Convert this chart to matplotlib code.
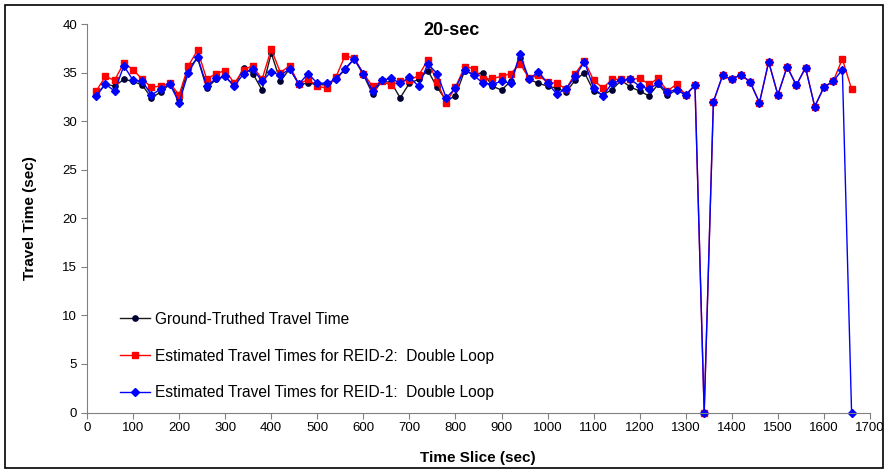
import numpy as np
import matplotlib
matplotlib.use("Agg")
import matplotlib.pyplot as plt
from matplotlib.patches import Rectangle

plt.rcParams['font.family'] = ['Liberation Sans', 'DejaVu Sans']

# time slices (sec)
t_all = list(range(20, 1661, 20))
t_truth = list(range(20, 1321, 20))

truth = [32.7, 33.8, 33.6, 34.3, 34.1, 33.7, 32.4, 33.0, 33.8, 32.3,
         35.4, 36.5, 33.4, 34.3, 34.6, 33.6, 35.5, 34.9, 33.2, 37.0,
         34.1, 35.4, 33.8, 33.9, 33.8, 33.7, 34.3, 35.3, 36.4, 34.8,
         32.8, 34.1, 34.0, 32.4, 33.9, 34.3, 35.2, 33.5, 32.1, 32.6,
         35.2, 34.8, 35.0, 33.6, 33.2, 34.1, 36.5, 34.3, 33.9, 33.6,
         33.4, 33.0, 34.2, 35.0, 33.1, 32.7, 33.25, 34.2, 33.5, 33.1,
         32.6, 33.8, 32.7, 33.2, 32.7, 33.7]

reid2 = [33.1, 34.6, 34.2, 36.0, 35.3, 34.3, 33.5, 33.6, 33.9, 32.7,
         35.7, 37.3, 34.3, 34.9, 35.2, 33.9, 35.3, 35.7, 34.3, 37.4,
         35.0, 35.7, 33.8, 34.3, 33.6, 33.4, 34.5, 36.7, 36.5, 34.9,
         33.6, 34.1, 33.7, 34.1, 34.2, 34.7, 36.3, 34.0, 31.9, 33.5,
         35.6, 35.4, 34.3, 34.4, 34.6, 34.9, 35.9, 34.4, 34.7, 34.0,
         33.9, 33.3, 34.9, 36.2, 34.2, 33.4, 34.3, 34.3, 34.3, 34.4,
         33.8, 34.4, 33.1, 33.8, 32.7, 33.7, 0.0, 32.0, 34.7, 34.3,
         34.8, 34.0, 31.9, 36.1, 32.7, 35.6, 33.7, 35.5, 31.5, 33.5,
         34.1, 36.4, 33.3]

reid1 = [32.6, 33.8, 33.1, 35.7, 34.2, 34.1, 32.7, 33.3, 33.8, 31.9,
         35.0, 36.6, 33.6, 34.4, 34.6, 33.6, 34.9, 35.4, 34.1, 35.1,
         34.7, 35.4, 33.8, 34.9, 33.9, 33.9, 34.3, 35.4, 36.4, 34.9,
         33.1, 34.2, 34.4, 33.9, 34.5, 33.6, 35.9, 34.9, 32.4, 33.4,
         35.3, 34.7, 33.9, 33.8, 34.1, 33.9, 36.9, 34.3, 35.1, 33.9,
         32.8, 33.3, 34.6, 36.1, 33.4, 32.6, 33.9, 34.2, 34.3, 33.6,
         33.3, 33.9, 33.0, 33.25, 32.7, 33.7, 0.0, 32.0, 34.7, 34.3,
         34.8, 34.0, 31.9, 36.1, 32.7, 35.6, 33.7, 35.5, 31.5, 33.5,
         34.1, 35.3, 0.0]

fig = plt.figure(figsize=(8.87, 4.69), dpi=100)
ax = fig.add_axes([87/887, 1-412.5/469, (870-87)/887, (412.5-24)/469])

ax.plot(t_truth, truth, color='#1a1a1a', lw=1, marker='o', ms=3.8,
        mfc='#000033', mec='#000033', label='Ground-Truthed Travel Time')
ax.plot(t_all, reid2, color='#ff0000', lw=1, marker='s', ms=4.3,
        mfc='#ff0000', mec='#ff0000',
        label='Estimated Travel Times for REID-2:  Double Loop')
ax.plot(t_all, reid1, color='#0000ff', lw=1, marker='D', ms=3.8,
        mfc='#0000ff', mec='#0000ff',
        label='Estimated Travel Times for REID-1:  Double Loop')

ax.set_xlim(0, 1700)
ax.set_ylim(0, 40)
ax.set_xticks(np.arange(0, 1701, 100))
ax.set_yticks(np.arange(0, 41, 5))
ax.tick_params(direction='out', length=4, width=0.8, color='#808080',
               labelsize=9.5, pad=3)
for s in ['top', 'right']:
    ax.spines[s].set_visible(False)
for s in ['left', 'bottom']:
    ax.spines[s].set_color('#808080')
    ax.spines[s].set_linewidth(0.8)
for ln in ax.lines:
    ln.set_clip_on(False)

fig.text(478/887, 1-458/469, 'Time Slice (sec)', ha='center', va='center',
         fontsize=11, fontweight='bold')
fig.text(30/887, 1-218/469, 'Travel Time (sec)', ha='center', va='center',
         rotation=90, fontsize=11, fontweight='bold')
fig.text(452/887, 1-30/469, '20-sec', ha='center', va='center',
         fontsize=13, fontweight='bold')

ax.legend(loc='upper left', bbox_to_anchor=(112/887, 1-304/469),
          bbox_transform=fig.transFigure, frameon=False, fontsize=11.2,
          borderpad=0, labelspacing=1.4, handlelength=1.95,
          handletextpad=0.32)

fig.patches.append(Rectangle((5/887, 0.002), 878/887, 1-5/469-0.002,
                             transform=fig.transFigure, fill=False,
                             edgecolor='black', lw=1.2))

fig.savefig('out.png', dpi=100)
